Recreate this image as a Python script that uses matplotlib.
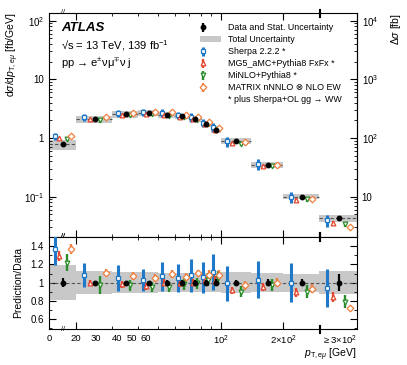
import numpy as np
import matplotlib
matplotlib.use("Agg")
import matplotlib.pyplot as plt
import matplotlib.transforms as mtransforms
from matplotlib.ticker import FixedLocator, NullFormatter, LogLocator, MultipleLocator, FuncFormatter
from matplotlib.legend_handler import HandlerErrorbar
from matplotlib.container import ErrorbarContainer
from matplotlib.patches import Patch
from matplotlib.lines import Line2D

plt.rcParams['font.family'] = ['Liberation Sans', 'DejaVu Sans']
plt.rcParams['mathtext.fontset'] = 'custom'
plt.rcParams['mathtext.rm'] = 'Liberation Sans'
plt.rcParams['mathtext.it'] = 'Liberation Sans:italic'
plt.rcParams['mathtext.bf'] = 'Liberation Sans:bold'
plt.rcParams['mathtext.fallback'] = 'stixsans'

# pT,emu bins [GeV]; the last bin is the overflow (>= 300 GeV)
edges = [0, 20, 30, 40, 50, 60, 70, 80, 90, 100, 140, 200, 300, 456]

# measured dsigma/dpT [fb/GeV] and relative uncertainties
data = [0.78, 2.09, 2.54, 2.67, 2.51, 2.35, 2.09, 1.71, 1.36, 0.89, 0.35, 0.10, 0.043]
data_stat = [0.045, 0.02, 0.02, 0.02, 0.025, 0.025, 0.03, 0.03, 0.035, 0.03, 0.035, 0.04, 0.09]
data_tot = [0.19, 0.13, 0.12, 0.12, 0.11, 0.11, 0.11, 0.11, 0.11, 0.12, 0.11, 0.10, 0.13]

# predictions [fb/GeV] and relative uncertainties
sherpa = [1.07, 2.26, 2.67, 2.75, 2.69, 2.47, 2.26, 1.81, 1.52, 0.881, 0.361, 0.100, 0.0404]
sherpa_err = [0.13, 0.12, 0.14, 0.12, 0.15, 0.15, 0.17, 0.16, 0.18, 0.20, 0.20, 0.22, 0.23]
mg5 = [1.01, 2.09, 2.49, 2.56, 2.51, 2.33, 2.09, 1.76, 1.39, 0.814, 0.333, 0.089, 0.0361]
mg5_err = [0.04, 0.03, 0.04, 0.04, 0.04, 0.04, 0.04, 0.05, 0.05, 0.045, 0.05, 0.055, 0.07]
minlo = [0.952, 2.04, 2.46, 2.54, 2.38, 2.30, 2.07, 1.76, 1.43, 0.801, 0.340, 0.090, 0.0338]
minlo_err = [0.08, 0.10, 0.06, 0.06, 0.06, 0.06, 0.06, 0.07, 0.07, 0.07, 0.07, 0.08, 0.09]
matrix = [1.07, 2.32, 2.72, 2.80, 2.76, 2.49, 2.30, 1.86, 1.47, 0.863, 0.350, 0.093, 0.031]
matrix_err = [0.04, 0.035, 0.04, 0.04, 0.04, 0.04, 0.04, 0.05, 0.05, 0.05, 0.05, 0.055, 0.03]

# x tick labels (text, value on the axis where the label sits)
xlabels = ['0', '20', '30', '40', '50', '60', '$10^2$', '$2{\\times}10^2$', '$\\geq3{\\times}10^2$']
xlabel_pos = [0, 20, 25, 31.6, 37.3, 43.6, 100, 200, 377]

# axis: compressed first bin, log from 20 GeV on
LO = np.log10(14.8)
L20 = np.log10(20)


def fwd(x):
    x = np.asarray(x, dtype=float)
    return np.where(x < 20, LO + x / 20 * (L20 - LO), np.log10(np.maximum(x, 20)))


def inv(u):
    u = np.asarray(u, dtype=float)
    return np.where(u < L20, (u - LO) / (L20 - LO) * 20, 10 ** np.minimum(u, 10))


lo = np.array(edges[:-1], dtype=float)
hi = np.array(edges[1:], dtype=float)


def xpos(frac):
    # marker position inside each bin (fraction of displayed bin width)
    return inv(fwd(lo) + frac * (fwd(hi) - fwd(lo)))


data = np.array(data)
data_stat = np.array(data_stat)
data_tot = np.array(data_tot)

models = [
    (np.array(sherpa), np.array(sherpa_err), '#1f78c8', 's', 0.21, 'Sherpa 2.2.2 *', 2.2),
    (np.array(mg5), np.array(mg5_err), '#e4462e', '^', 0.37, 'MG5_aMC+Pythia8 FxFx *', 1.7),
    (np.array(minlo), np.array(minlo_err), '#2a8c2a', 'v', 0.67, 'MiNLO+Pythia8 *', 1.7),
    (np.array(matrix), np.array(matrix_err), '#f08040', 'D', 0.81, 'MATRIX nNNLO \u2297 NLO EW', 1.7),
]

fig, (ax1, ax2) = plt.subplots(2, 1, sharex=True, figsize=(4.07, 3.65), dpi=100,
                               gridspec_kw={'height_ratios': [223.3, 92.3]})
fig.subplots_adjust(left=0.1204, right=0.877, top=0.965, bottom=0.0986, hspace=0)

ax1.set_xscale('function', functions=(fwd, inv))
ax1.set_yscale('log')

# --- main panel ---
grey = '#c8c8c8'
ax1.bar(lo, 2 * data * data_tot, width=hi - lo, bottom=data * (1 - data_tot), align='edge',
        color=grey, lw=0, zorder=1)
ax1.hlines(data, lo, hi, colors='#555555', linestyles=(0, (3, 2)), lw=0.8, zorder=2)

handles = []
for vals, rel, col, mk, f, lab, lw in models:
    h = ax1.errorbar(xpos(f), vals, yerr=vals * rel, fmt=mk, color=col, mfc='white', mec=col,
                     ms=3.4, mew=0.9, elinewidth=lw, capsize=0, zorder=3, label=lab)
    handles.append(h)
hd = ax1.errorbar(xpos(0.52), data, yerr=data * data_stat, fmt='o', color='black', ms=3.2,
                  elinewidth=1.6, capsize=0, zorder=4, label='Data and Stat. Uncertainty')

ax1.set_xlim(0, 456)
ax1.set_ylim(0.021, 137)
ax1.set_yticks([0.1, 1, 10, 100], ['$10^{-1}$', '1', '10', '$10^2$'])
ax1.yaxis.set_minor_locator(LogLocator(subs=np.arange(2, 10)))
ax1.yaxis.set_minor_formatter(NullFormatter())
ax1.set_ylabel('d$\\sigma$/d$p_{\\mathrm{T,e}\\mu}$ [fb/GeV]', loc='top', fontsize=7.5)
ax1.yaxis.set_label_coords(-0.09, 1.0)

sec = ax1.secondary_yaxis('right', functions=(lambda y: y * 100, lambda y: y / 100))
sec.set_yticks([10, 100, 1000, 10000], ['10', '$10^2$', '$10^3$', '$10^4$'])
sec.yaxis.set_minor_locator(LogLocator(subs=np.arange(2, 10)))
sec.yaxis.set_minor_formatter(NullFormatter())
sec.tick_params(which='both', direction='in', labelsize=7)
sec.tick_params(which='major', length=5)
sec.tick_params(which='minor', length=2.5)
ax1.text(1.128, 1.0, '$\\Delta\\sigma$ [fb]', rotation=90, ha='center', va='top',
         fontsize=7.5, transform=ax1.transAxes)

ax1.text(0.04, 0.957, 'ATLAS', fontsize=9.5, fontweight='bold', style='italic', va='top',
         transform=ax1.transAxes)
ax1.text(0.04, 0.855, '\u221as = 13 TeV, 139 fb$^{-1}$', fontsize=8, va='center',
         transform=ax1.transAxes)
ax1.text(0.04, 0.775, 'pp \u2192 e$^{\\pm}$\u03bd\u03bc$^{\\mp}$\u03bd j', fontsize=8,
         va='center', transform=ax1.transAxes)


# legend with markers on the left of the handle box
class LeftErr(HandlerErrorbar):
    def get_xdata(self, legend, xdescent, ydescent, width, height, fontsize):
        return [-xdescent, -xdescent + width], [-xdescent + 0.15 * width]


leg_handles = [hd, Patch(facecolor=grey, edgecolor='none')] + handles + \
              [Line2D([], [], ls='none', marker='none')]
leg_labels = ['Data and Stat. Uncertainty', 'Total Uncertainty'] + [m[5] for m in models] + \
             ['* plus Sherpa+OL gg \u2192 WW']
ax1.legend(leg_handles, leg_labels, loc='upper left', bbox_to_anchor=(0.49, 0.953),
           frameon=False, fontsize=6.4, handlelength=2.4, handletextpad=0.8,
           labelspacing=0.34, borderaxespad=0, borderpad=0,
           handler_map={ErrorbarContainer: LeftErr()})

# --- ratio panel ---
ax2.bar(lo, 2 * data_tot, width=hi - lo, bottom=1 - data_tot, align='edge', color=grey,
        lw=0, zorder=1)
ax2.axhline(1, color='#555555', ls=(0, (3, 2)), lw=0.8, zorder=2)
for vals, rel, col, mk, f, lab, lw in models:
    r = vals / data
    ax2.errorbar(xpos(f), r, yerr=r * rel, fmt=mk, color=col, mfc='white', mec=col,
                 ms=3.4, mew=0.9, elinewidth=lw, capsize=0, zorder=3)
ax2.errorbar(xpos(0.52), data / data, yerr=data_stat, fmt='o', color='black', ms=3.2,
             elinewidth=1.6, capsize=0, zorder=4)

ax2.set_ylim(0.485, 1.51)
ax2.yaxis.set_major_locator(FixedLocator([0.6, 0.8, 1.0, 1.2, 1.4]))
ax2.yaxis.set_minor_locator(MultipleLocator(0.1))
ax2.yaxis.set_major_formatter(FuncFormatter(lambda v, p: '%g' % v))
ax2.set_ylabel('Prediction/Data', fontsize=7.5)
ax2.yaxis.set_label_coords(-0.085, 0.5)

# x ticks: marks at bin edges, labels placed separately
for ax in (ax1, ax2):
    ax.xaxis.set_major_locator(FixedLocator([20, 100, 200]))
    ax.xaxis.set_minor_locator(FixedLocator([30, 40, 50, 60, 70, 80, 90]))
    ax.xaxis.set_major_formatter(NullFormatter())
    ax.xaxis.set_minor_formatter(NullFormatter())
    ax.tick_params(which='both', direction='in', top=True, labelsize=7)
    ax.tick_params(which='major', length=5)
    ax.tick_params(which='minor', length=2.5)
ax2.tick_params(axis='y', which='both', right=True)

tr2 = mtransforms.blended_transform_factory(ax2.transData, ax2.transAxes)
for lab, xv in zip(xlabels, xlabel_pos):
    ax2.text(xv, -0.055, lab, ha='center', va='top', fontsize=6.8, transform=tr2)
ax2.set_xlabel('$p_{\\mathrm{T,e}\\mu}$ [GeV]', loc='right', fontsize=7.5, labelpad=9)

# axis break markers
for ax, dy in ((ax1, 0.018), (ax2, 0.043)):
    tr = mtransforms.blended_transform_factory(ax.transData, ax.transAxes)
    for yv in (0, 1):
        ax.text(10.5, yv, '//', ha='center', va='center', fontsize=5, transform=tr)
        for xv in (297.6, 303.6):
            ax.plot([xv, xv], [yv - dy, yv + dy], color='black', lw=0.8, transform=tr,
                    clip_on=False, zorder=5)

fig.savefig('out.png', dpi=100)
